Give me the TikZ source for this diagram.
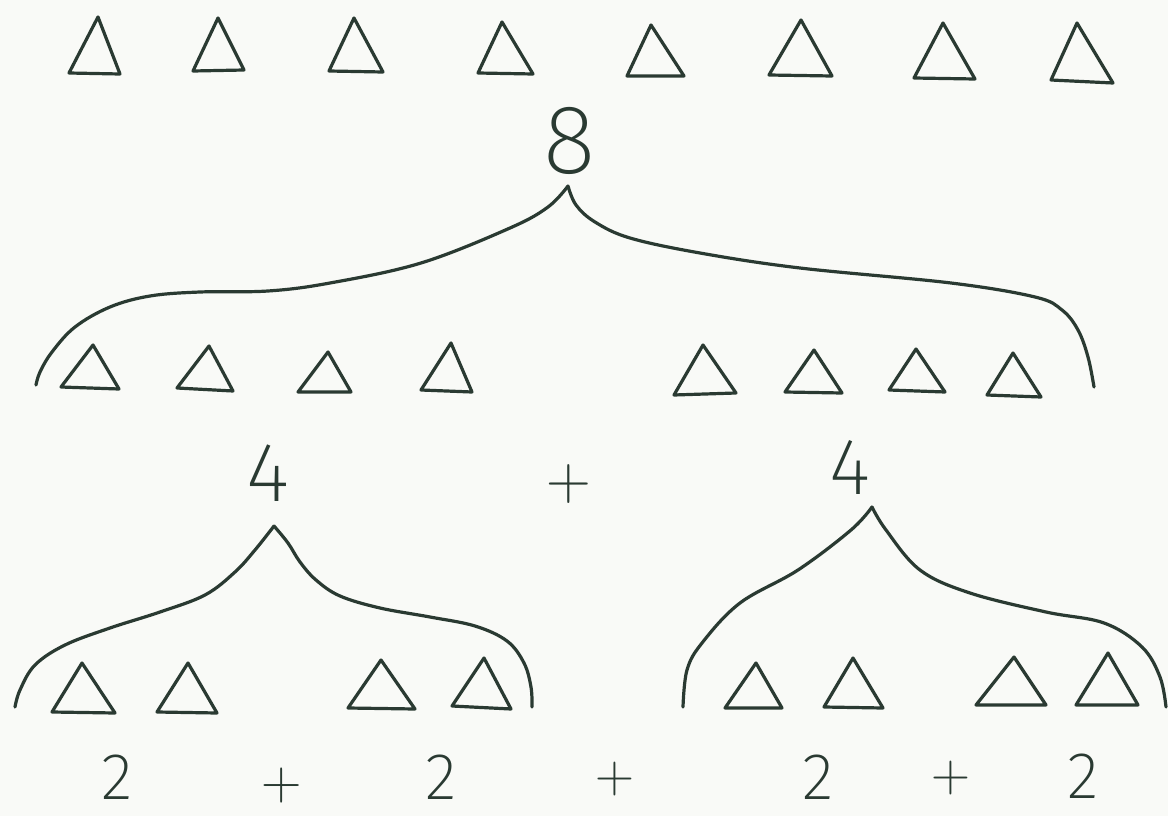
\documentclass[tikz,border=0pt]{standalone}
\usepackage{fontspec}
\IfFontExistsTF{Fira Sans ExtraLight}
  {\newfontfamily\hand{Fira Sans ExtraLight}}
  {\IfFontExistsTF{Fira Sans Light}
     {\newfontfamily\hand{Fira Sans Light}}
     {\newfontfamily\hand{Fira Sans}}}
\definecolor{ink}{RGB}{42,58,50}
\definecolor{paper}{RGB}{249,250,247}
\tikzset{
  stroke/.style={draw=ink, line width=3.2pt, line cap=round, line join=round},
  trig/.style={stroke},
  brace/.style={stroke},
  num/.style={text=ink, inner sep=0pt},
  plus/.style={text=ink, inner sep=0pt},
}
\begin{document}
\begin{tikzpicture}[x=1pt,y=-1pt]
\fill[paper] (0,0) rectangle (1168,816);
\useasboundingbox (0,0) rectangle (1168,816);

% top row of eight triangles
\draw[trig] (98,17) -- (69,73) -- (120,74) -- cycle;
\draw[trig] (218,18) -- (193,71) -- (244,70) -- cycle;
\draw[trig] (354,18) -- (329,71) -- (383,72) -- cycle;
\draw[trig] (502,22) -- (478,73) -- (533,74) -- cycle;
\draw[trig] (651,25) -- (627,76) -- (684,76) -- cycle;
\draw[trig] (801,20) -- (769,75) -- (832,76) -- cycle;
\draw[trig] (943,23) -- (914,78) -- (975,79) -- cycle;
\draw[trig] (1077,23) -- (1051,80) -- (1113,83) -- cycle;

% 8 and its brace
\node[num, font=\hand\fontsize{98}{98}\selectfont] (n8) at (570,141) {8};
\coordinate (a8) at (568,186);
\coordinate (l8) at (36,385);
\coordinate (r8) at (1094,387);
\draw[brace] plot[smooth, tension=0.6] coordinates {(a8) (548,207) (510,228) (421,263) (330,283) (268,291) (200,292) (150,296) (110,307) (75,327) (52,352) (40,372) (l8)};
\draw[brace] plot[smooth, tension=0.6] coordinates {(a8) (576,205) (595,222) (630,238) (700,253) (800,268) (951,283) (1035,297) (1062,310) (1078,330) (1088,357) (r8)};

% second row of triangles
\draw[trig] (93,345) -- (61,387) -- (119,389) -- cycle;
\draw[trig] (209,346) -- (177,388) -- (233,391) -- cycle;
\draw[trig] (328,352) -- (298,392) -- (351,392) -- cycle;
\draw[trig] (451,343) -- (421,390) -- (472,392) -- cycle;
\draw[trig] (703,345) -- (674,395) -- (736,393) -- cycle;
\draw[trig] (814,350) -- (785,392) -- (842,393) -- cycle;
\draw[trig] (916,349) -- (889,390) -- (945,392) -- cycle;
\draw[trig] (1013,353) -- (987,395) -- (1041,397) -- cycle;

% 4 + 4
\node[num, font=\hand\fontsize{84}{84}\selectfont] (n4a) at (268,473) {4};
\node[plus, font=\rmfamily\fontsize{62}{62}\selectfont] (pm) at (569,484) {+};
\node[num, font=\hand\fontsize{80}{80}\selectfont] (n4b) at (850,467) {4};

% left sub-brace
\coordinate (a4a) at (274,526);
\draw[brace] plot[smooth, tension=0.6] coordinates {(a4a) (255,550) (235,572) (205,595) (160,612) (110,628) (65,645) (35,665) (20,690) (15,707)};
\draw[brace] plot[smooth, tension=0.6] coordinates {(a4a) (288,543) (300,562) (316,580) (340,596) (380,608) (430,617) (475,626) (507,641) (524,663) (531,687) (532,707)};

% right sub-brace
\coordinate (a4b) at (872,507);
\draw[brace] plot[smooth, tension=0.6] coordinates {(a4b) (851,530) (798,570) (740,603) (702,643) (687,670) (683,707)};
\draw[brace] plot[smooth, tension=0.6] coordinates {(a4b) (886,530) (920,570) (970,593) (1046,612) (1104,623) (1142,647) (1160,677) (1166,707)};

% third row of triangles
\draw[trig] (82,663) -- (52,712) -- (115,713) -- cycle;
\draw[trig] (188,663) -- (157,712) -- (217,713) -- cycle;
\draw[trig] (381,660) -- (348,708) -- (415,709) -- cycle;
\draw[trig] (484,658) -- (452,706) -- (511,709) -- cycle;
\draw[trig] (756,663) -- (725,708) -- (782,708) -- cycle;
\draw[trig] (853,658) -- (824,707) -- (883,708) -- cycle;
\draw[trig] (1014,657) -- (976,705) -- (1046,705) -- cycle;
\draw[trig] (1108,653) -- (1076,705) -- (1138,705) -- cycle;

% bottom row: 2 + 2 + 2 + 2
\node[num, font=\hand\fontsize{66}{66}\selectfont] (b1) at (117,777) {2};
\node[plus, font=\rmfamily\fontsize{56}{56}\selectfont] (p1) at (282,786) {+};
\node[num, font=\hand\fontsize{66}{66}\selectfont] (b2) at (441,777) {2};
\node[plus, font=\rmfamily\fontsize{54}{54}\selectfont] (p2) at (615,779) {+};
\node[num, font=\hand\fontsize{66}{66}\selectfont] (b3) at (818,777) {2};
\node[plus, font=\rmfamily\fontsize{54}{54}\selectfont] (p3) at (951,778) {+};
\node[num, font=\hand\fontsize{66}{66}\selectfont] (b4) at (1083,776) {2};
\end{tikzpicture}
\end{document}
